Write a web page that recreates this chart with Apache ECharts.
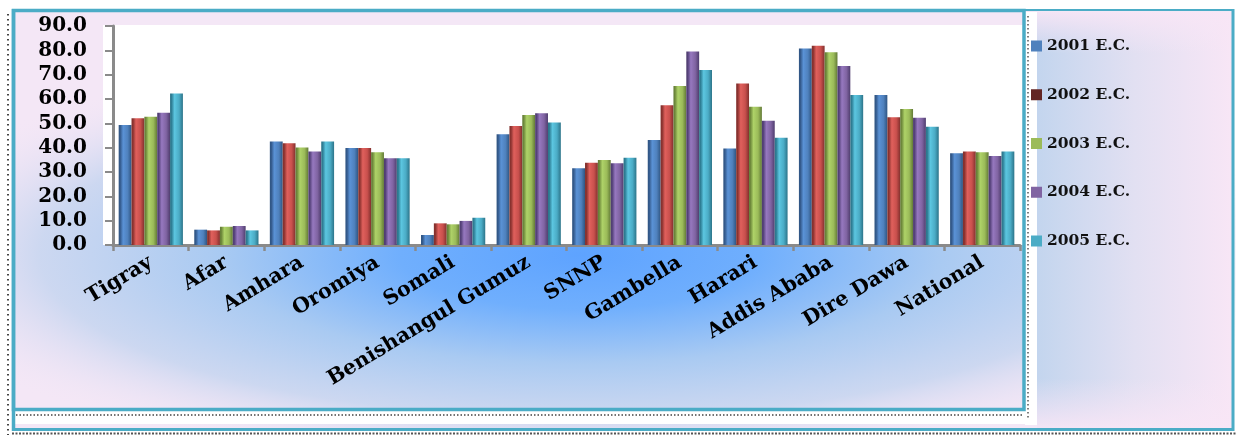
<!DOCTYPE html>
<html>
<head>
<meta charset="utf-8">
<script src="https://cdn.jsdelivr.net/npm/echarts@6/dist/echarts.min.js"></script>
<style>
html,body{margin:0;padding:0;background:#fff;}
#chart{width:1236px;height:435px;}
</style>
</head>
<body>
<div id="chart"></div>
<script>
const categories = ['Tigray','Afar','Amhara','Oromiya','Somali','Benishangul Gumuz','SNNP','Gambella','Harari','Addis Ababa','Dire Dawa','National'];
const seriesNames = ['2001 E.C.','2002 E.C.','2003 E.C.','2004 E.C.','2005 E.C.'];
const v2001 = [49.3, 6.3, 42.5, 39.9, 4.1, 45.5, 31.5, 43.2, 39.7, 80.8, 61.6, 37.7];
const v2002 = [52.1, 6.0, 41.8, 39.9, 8.9, 48.9, 33.8, 57.4, 66.4, 81.9, 52.5, 38.4];
const v2003 = [52.7, 7.5, 40.1, 38.1, 8.5, 53.4, 34.9, 65.3, 56.8, 79.2, 55.9, 38.1];
const v2004 = [54.4, 7.8, 38.4, 35.6, 9.9, 54.1, 33.6, 79.5, 51.1, 73.6, 52.3, 36.6];
const v2005 = [62.3, 6.0, 42.5, 35.6, 11.2, 50.3, 35.9, 71.9, 44.1, 61.6, 48.6, 38.4];
const yTicks = [0,10,20,30,40,50,60,70,80,90];

const seriesValues = [v2001, v2002, v2003, v2004, v2005];
const barColors = [
  ['#345a8c','#5a92d6','#4f81bd','#2f5582'],
  ['#8c3330','#e0605c','#c9504d','#82302d'],
  ['#6f8a3c','#aed268','#9bbb59','#627a36'],
  ['#55427a','#9678bf','#8064a2','#4f3d6e'],
  ['#2f7f96','#5cc6e0','#4bacc6','#2c7489']
];
const legendIconColors = ['#4f81bd','#632523','#9bbb59','#8064a2','#4bacc6'];
const serif = "'DejaVu Serif', serif";

function grad(c){
  return new echarts.graphic.LinearGradient(0,0,1,0,[
    {offset:0,color:c[3]},{offset:0.12,color:c[0]},{offset:0.35,color:c[1]},
    {offset:0.7,color:c[2]},{offset:1,color:c[3]}
  ]);
}

const chart = echarts.init(document.getElementById('chart'));
const teal = '#4bacc6';
const pinkA = a => 'rgba(248,230,246,' + a + ')';
const option = {
  animation:false,
  graphic:[
    {type:'rect',z:-10,shape:{x:12,y:9,width:1222,height:421},style:{fill:'#f4e7f6'}},
    {type:'circle',z:-10,x:580,y:255,scaleY:0.3,shape:{cx:0,cy:0,r:720},
      style:{fill:new echarts.graphic.RadialGradient(0.5,0.5,0.5,[
        {offset:0,color:'#5ea3ff'},{offset:0.25,color:'#70affd'},
        {offset:0.5,color:'#a9caf2'},{offset:0.75,color:'rgba(200,214,240,0.9)'},
        {offset:1,color:'rgba(244,231,246,0)'}])}},
    {type:'rect',z:-10,shape:{x:0,y:0,width:12,height:435},style:{fill:'#ffffff'}},
    {type:'rect',z:-10,shape:{x:0,y:430,width:1236,height:5},style:{fill:'#ffffff'}},
    {type:'rect',z:-10,shape:{x:1037,y:12,width:196,height:416},
      style:{fill:new echarts.graphic.LinearGradient(0,0,1,0,[
        {offset:0,color:'#c3d5ee'},{offset:0.5,color:'#e2e0f2'},{offset:1,color:'#f8e6f6'}])}},
    {type:'rect',z:-10,shape:{x:1037,y:12,width:196,height:416},
      style:{fill:new echarts.graphic.LinearGradient(0,0,0,1,[
        {offset:0,color:pinkA(0.9)},{offset:0.1,color:pinkA(0)},
        {offset:0.88,color:pinkA(0)},{offset:1,color:pinkA(0.9)}])}},
    {type:'rect',z:-10,shape:{x:1025,y:12,width:12,height:413},style:{fill:'#ffffff'}},
    {type:'rect',z:-10,shape:{x:14,y:410,width:1023,height:14},style:{fill:'#ffffff'}},
    {type:'rect',z:-10,shape:{x:103,y:25,width:920,height:220},style:{fill:'#ffffff'}},
    {type:'rect',z:-9,shape:{x:13.5,y:10.5,width:1010.5,height:399},style:{fill:null,stroke:teal,lineWidth:3.5}},
    {type:'line',z:-9,shape:{x1:1024,y1:10,x2:1234,y2:10},style:{stroke:teal,lineWidth:2}},
    {type:'line',z:-9,shape:{x1:1233,y1:9,x2:1233,y2:431},style:{stroke:teal,lineWidth:3}},
    {type:'line',z:-9,shape:{x1:12,y1:429.5,x2:1234,y2:429.5},style:{stroke:teal,lineWidth:3}},
    {type:'line',z:-9,shape:{x1:13.5,y1:9,x2:13.5,y2:431},style:{stroke:teal,lineWidth:3.5}},
    {type:'line',z:-9,shape:{x1:8,y1:14,x2:8,y2:435},style:{stroke:'#444',lineWidth:2,lineDash:[1.5,3.5]}},
    {type:'line',z:-9,shape:{x1:16,y1:415,x2:1022,y2:415},style:{stroke:'#444',lineWidth:1.5,lineDash:[1.5,2]}},
    {type:'line',z:-9,shape:{x1:12,y1:433.5,x2:1236,y2:433.5},style:{stroke:'#555',lineWidth:2,lineDash:[2,1.5]}},
    {type:'line',z:-9,shape:{x1:1028,y1:16,x2:1028,y2:420},style:{stroke:'#555',lineWidth:1.5,lineDash:[1.5,2.5]}}
  ],
  grid:{left:113,right:216,top:26,bottom:190,containLabel:false},
  legend:{
    orient:'vertical',left:1026,top:27,
    itemWidth:11,itemHeight:11,itemGap:20.75,icon:'rect',
    textStyle:{fontFamily:serif,fontWeight:'bold',fontSize:15.5,color:'#111',lineHeight:20,padding:[8,0,0,0]},
    data:seriesNames.map((n,i)=>({name:n,itemStyle:{color:legendIconColors[i]}}))
  },
  xAxis:{
    type:'category',data:categories,
    axisLine:{lineStyle:{color:'#8a8a8a',width:3}},
    axisTick:{show:true,length:6,lineStyle:{color:'#8a8a8a',width:2.5}},
    axisLabel:{rotate:31,margin:16,interval:0,fontFamily:serif,fontWeight:'bold',fontSize:20.5,color:'#000'}
  },
  yAxis:{
    type:'value',min:yTicks[0],max:yTicks[yTicks.length-1],interval:10,
    axisLine:{show:true,lineStyle:{color:'#8a8a8a',width:3}},
    axisTick:{show:true,length:8,lineStyle:{color:'#8a8a8a',width:2}},
    splitLine:{show:false},
    axisLabel:{margin:26,fontFamily:serif,fontWeight:'bold',fontSize:20,color:'#000',
      formatter:v=>v.toFixed(1)}
  },
  series:seriesNames.map((n,i)=>({
    name:n,type:'bar',data:seriesValues[i],
    barGap:'0%',barCategoryGap:'15%',
    itemStyle:{color:grad(barColors[i])}
  }))
};
chart.setOption(option);
</script>
</body>
</html>
